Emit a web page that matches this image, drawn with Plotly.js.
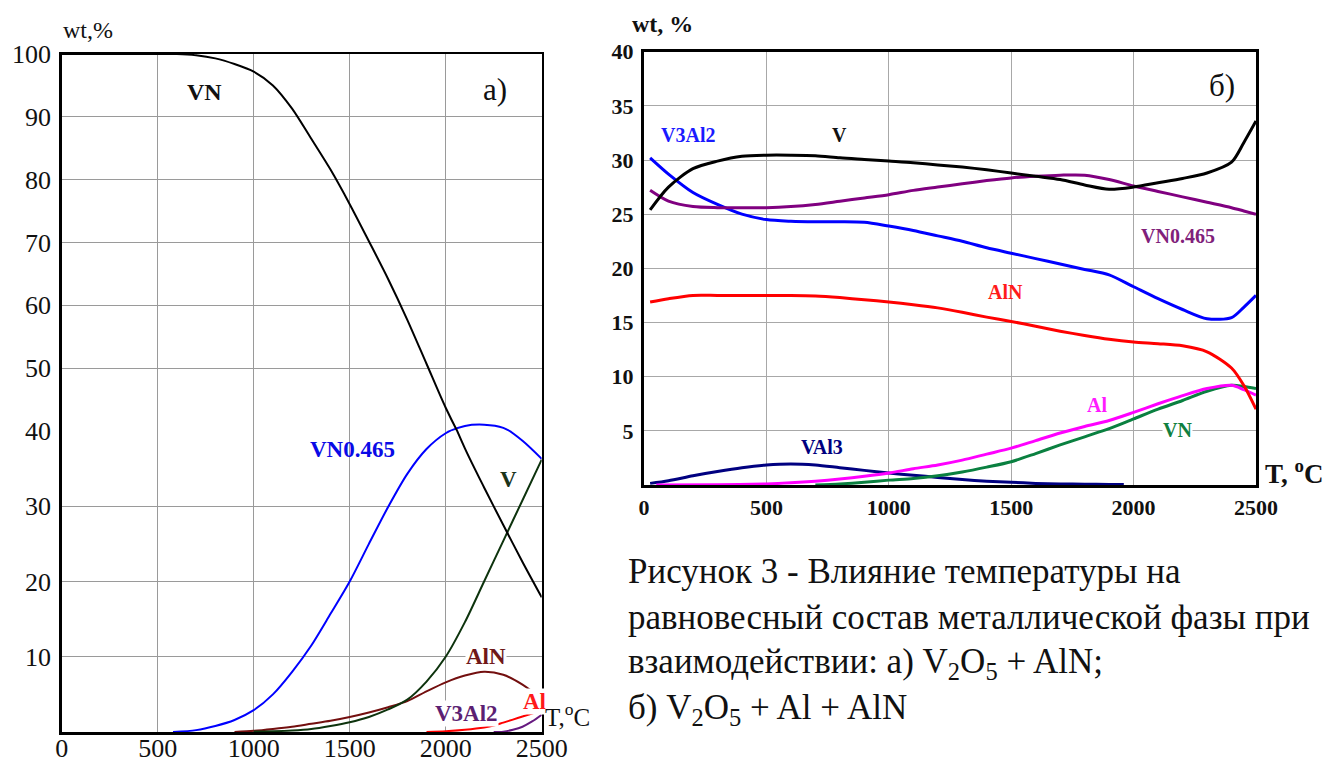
<!DOCTYPE html>
<html><head><meta charset="utf-8">
<script src="https://cdn.plot.ly/plotly-3.0.1.min.js"></script>
<style>html,body{margin:0;padding:0;background:#fff}#chart{width:1330px;height:762px}</style>
</head><body><div id="chart"></div>
<script>
// ---------- Chart a) V2O5 + AlN ----------
const xTicks = [0, 500, 1000, 1500, 2000, 2500];
const yTicksA_low = [10, 20, 30, 40];
const yTicksA_high = [50, 60, 70, 80, 90, 100];

const tA_VN = [0, 500, 600, 700, 800, 900, 1000, 1100, 1200, 1300, 1400, 1500, 1600, 1700, 1800, 1900, 2000, 2100, 2200, 2300, 2400, 2500];
const a_VN = [100, 100, 100, 99.8, 99.3, 98.4, 97.2, 95, 91.3, 86.5, 81.6, 76.1, 70.2, 64.2, 57.7, 50.7, 43.7, 37.7, 32.5, 27.5, 22.6, 17.9];

const tA_VN465 = [580, 700, 800, 900, 1000, 1100, 1200, 1300, 1400, 1500, 1600, 1700, 1800, 1900, 2000, 2100, 2200, 2300, 2400, 2500];
const a_VN465 = [0, 0.25, 0.8, 1.6, 2.9, 5, 8, 11.5, 15.7, 20, 25, 29.9, 34.3, 37.6, 39.7, 40.8, 41, 40.5, 38.7, 36.3];

const tA_V = [1000, 1100, 1200, 1300, 1400, 1500, 1600, 1700, 1800, 1900, 2000, 2100, 2200, 2300, 2400, 2500];
const a_V = [0.05, 0.1, 0.2, 0.4, 0.8, 1.3, 2.0, 3.0, 4.3, 6.7, 10, 14.6, 20, 25.4, 30.8, 36.2];

const tA_AlN = [900, 1000, 1100, 1200, 1300, 1400, 1500, 1600, 1700, 1800, 1900, 2000, 2100, 2200, 2300, 2400, 2500];
const a_AlN = [0, 0.15, 0.4, 0.7, 1.1, 1.5, 2.0, 2.6, 3.3, 4.1, 5.4, 6.6, 7.5, 8.0, 7.6, 6.3, 4.4];

const tA_Al = [1900, 2000, 2100, 2200, 2250, 2300, 2350, 2400, 2450, 2500];
const a_Al = [0, 0.1, 0.3, 0.6, 0.85, 1.25, 1.65, 2.05, 2.45, 2.85];

const tA_V3Al2 = [2250, 2300, 2350, 2400, 2450, 2500];
const a_V3Al2 = [0, 0.05, 0.3, 0.7, 1.4, 2.3];

// ---------- Chart б) V2O5 + Al + AlN ----------
const yTicksB = [5, 10, 15, 20, 25, 30, 35, 40];
const tB = [25, 100, 200, 300, 400, 500, 600, 700, 800, 900, 1000, 1100, 1200, 1300, 1400, 1500, 1600, 1700, 1800, 1900, 2000, 2100, 2200, 2300, 2400, 2450, 2500];
const b_V      = [25.4, 27.5, 29.2, 29.9, 30.35, 30.45, 30.45, 30.4, 30.2, 30.05, 29.9, 29.75, 29.55, 29.35, 29.1, 28.8, 28.5, 28.2, 27.7, 27.3, 27.5, 27.9, 28.3, 28.8, 29.8, 31.6, 33.6];
const b_VN465  = [27.2, 26.2, 25.7, 25.6, 25.6, 25.6, 25.7, 25.9, 26.2, 26.5, 26.8, 27.2, 27.5, 27.8, 28.1, 28.35, 28.5, 28.6, 28.6, 28.2, 27.6, 27.1, 26.6, 26.1, 25.6, 25.3, 25.0];
const b_V3Al2  = [30.2, 28.7, 27.0, 25.9, 25.0, 24.5, 24.35, 24.3, 24.3, 24.25, 23.9, 23.5, 23.0, 22.5, 21.9, 21.4, 20.9, 20.4, 19.9, 19.4, 18.3, 17.2, 16.2, 15.35, 15.45, 16.4, 17.5];
const b_AlN    = [16.9, 17.2, 17.5, 17.5, 17.5, 17.5, 17.5, 17.45, 17.3, 17.1, 16.9, 16.65, 16.35, 15.95, 15.5, 15.1, 14.65, 14.2, 13.8, 13.45, 13.2, 13.05, 12.85, 12.3, 10.8, 9.2, 7.0];

const tB_Al = [50, 300, 500, 600, 700, 800, 900, 1000, 1100, 1200, 1300, 1400, 1500, 1600, 1700, 1800, 1900, 2000, 2100, 2200, 2300, 2400, 2450, 2500];
const b_Al  = [0, 0.02, 0.1, 0.2, 0.35, 0.55, 0.8, 1.1, 1.5, 1.85, 2.3, 2.85, 3.4, 4.1, 4.8, 5.4, 5.95, 6.7, 7.5, 8.25, 8.9, 9.2, 8.8, 8.3];

const tB_VN = [700, 800, 900, 1000, 1100, 1200, 1300, 1400, 1500, 1600, 1700, 1800, 1900, 2000, 2100, 2200, 2300, 2400, 2450, 2500];
const b_VN  = [0, 0.1, 0.25, 0.45, 0.6, 0.85, 1.2, 1.65, 2.15, 2.9, 3.7, 4.45, 5.2, 6.1, 7.0, 7.8, 8.65, 9.2, 9.1, 8.9];

const tB_VAl3 = [25, 100, 200, 300, 400, 500, 600, 700, 800, 900, 1000, 1100, 1200, 1300, 1400, 1500, 1600, 1700, 1800, 1900, 1960];
const b_VAl3  = [0.15, 0.4, 0.85, 1.25, 1.6, 1.85, 1.95, 1.85, 1.6, 1.35, 1.1, 0.9, 0.7, 0.5, 0.35, 0.25, 0.15, 0.1, 0.07, 0.05, 0.04];

const caption = [
  'Рисунок 3 - Влияние температуры на',
  'равновесный состав металлической фазы при',
  'взаимодействии: а) V<sub>2</sub>O<sub>5</sub> + AlN;',
  'б) V<sub>2</sub>O<sub>5</sub> + Al + AlN'
];

// ---------- build ----------
const SERIF = '"Liberation Serif", "Times New Roman", Times, "DejaVu Serif", serif';
function ln(x, y, color, width, xa, ya) {
  return {type: 'scatter', mode: 'lines', x: x, y: y, xaxis: xa, yaxis: ya,
    line: {color: color, width: width, shape: 'spline', smoothing: 0.8}, hoverinfo: 'skip'};
}
const traces = [];
// chart a: lower (0-40) and upper (40-100) parts of the same axis
[['x', 'y'], ['x2', 'y2']].forEach(([xa, ya]) => {
  traces.push(ln(tA_AlN, a_AlN, '#730f0f', 2, xa, ya));
  traces.push(ln(tA_Al, a_Al, '#ff0000', 2, xa, ya));
  traces.push(ln(tA_V3Al2, a_V3Al2, '#661a80', 2, xa, ya));
  traces.push(ln(tA_V, a_V, '#0d330d', 2, xa, ya));
  traces.push(ln(tA_VN465, a_VN465, '#0000ff', 2, xa, ya));
  traces.push(ln(tA_VN, a_VN, '#000000', 2, xa, ya));
});
// chart b
traces.push(ln(tB_VAl3, b_VAl3, '#000080', 3, 'x3', 'y3'));
traces.push(ln(tB_VN, b_VN, '#0a8040', 3, 'x3', 'y3'));
traces.push(ln(tB_Al, b_Al, '#ff00ff', 3, 'x3', 'y3'));
traces.push(ln(tB, b_AlN, '#ff0000', 3, 'x3', 'y3'));
traces.push(ln(tB, b_V3Al2, '#0000ff', 3, 'x3', 'y3'));
traces.push(ln(tB, b_VN465, '#800080', 3, 'x3', 'y3'));
traces.push(ln(tB, b_V, '#000000', 3, 'x3', 'y3'));

const gridA = '#9a9a9a', gridB = '#a8a8a8';
const domXA = [61.7 / 1330, 541.7 / 1330];
const yBreak = 1 - 431 / 762;
const fontA = {family: SERIF, size: 26, color: '#111'};
const fontB = {family: SERIF, size: 22, color: '#111', weight: 'bold'};

const baseA = {showgrid: true, gridcolor: gridA, gridwidth: 1, zeroline: false, ticks: '',
  showline: true, linecolor: '#000', linewidth: 2.5, fixedrange: true};

const layout = {
  width: 1330, height: 762, margin: {l: 0, r: 0, t: 0, b: 0},
  paper_bgcolor: '#fff', plot_bgcolor: 'rgba(0,0,0,0)', showlegend: false,
  font: {family: SERIF, color: '#000'},
  xaxis: Object.assign({}, baseA, {domain: domXA, range: [0, 2500], anchor: 'y',
    tickmode: 'array', tickvals: xTicks, tickfont: fontA, ticklabelstandoff: -9}),
  yaxis: Object.assign({}, baseA, {domain: [1 - 732 / 762, yBreak], range: [0, 40], anchor: 'x',
    mirror: true, tickmode: 'array', tickvals: yTicksA_low, tickfont: fontA, ticklabelstandoff: 3}),
  xaxis2: Object.assign({}, baseA, {domain: domXA, range: [0, 2500], anchor: 'y2', side: 'top',
    tickmode: 'array', tickvals: xTicks, showticklabels: false}),
  yaxis2: Object.assign({}, baseA, {domain: [yBreak, 1 - 54 / 762], range: [40, 100], anchor: 'x2',
    mirror: true, tickmode: 'array', tickvals: yTicksA_high, tickfont: fontA, ticklabelstandoff: 3}),
  xaxis3: {domain: [644 / 1330, 1256 / 1330], range: [0, 2500], anchor: 'y3',
    showgrid: true, gridcolor: gridB, gridwidth: 1, zeroline: false, ticks: '',
    showline: true, mirror: true, linecolor: '#000', linewidth: 3,
    tickmode: 'array', tickvals: xTicks, tickfont: fontB, ticklabelstandoff: 1, fixedrange: true},
  yaxis3: {domain: [1 - 485 / 762, 1 - 51.7 / 762], range: [0, 40], anchor: 'x3',
    showgrid: true, gridcolor: gridB, gridwidth: 1, zeroline: false, ticks: '',
    showline: true, mirror: true, linecolor: '#000', linewidth: 3,
    tickmode: 'array', tickvals: yTicksB, tickfont: fontB, ticklabelstandoff: 3, fixedrange: true},
  annotations: []
};

function lab(text, x, y, xref, yref, size, color, bold, bg, extra) {
  return Object.assign({text: text, x: x, y: y, xref: xref, yref: yref, showarrow: false,
    xanchor: 'center', yanchor: 'middle',
    font: {family: SERIF, size: size, color: color, weight: bold ? 'bold' : 'normal'},
    bgcolor: bg || 'rgba(0,0,0,0)', borderpad: 0}, extra || {});
}
const A = layout.annotations;
// chart a labels
A.push(lab('wt,%', 88 / 1330, 1 - 30 / 762, 'paper', 'paper', 24, '#111', false));
A.push(lab('VN', 746, 94, 'x2', 'y2', 24, '#111', true));
A.push(lab('a)', 2257, 94.3, 'x2', 'y2', 31, '#111', false));
A.push(lab('VN0.465', 1512, 37.6, 'x', 'y', 23, '#0a0ae6', true));
A.push(lab('V', 2325, 33.6, 'x', 'y', 23, '#1a331a', true));
A.push(lab('AlN', 2210, 10.0, 'x', 'y', 23, '#701818', true, '#fff'));
A.push(lab('Al', 2460, 4.1, 'x', 'y', 23, '#ff1a1a', true, '#fff'));
A.push(lab('V3Al2', 2106, 2.5, 'x', 'y', 23, '#5c1f73', true, '#fff'));
A.push(lab('T,<sup>o</sup>C', 567 / 1330, 1 - 715 / 762, 'paper', 'paper', 25, '#111', false));
// chart b labels
A.push(lab('wt, %', 662 / 1330, 1 - 24 / 762, 'paper', 'paper', 24, '#111', true));
A.push(lab('б)', 2361, 36.9, 'x3', 'y3', 31, '#111', false));
A.push(lab('V3Al2', 180, 32.3, 'x3', 'y3', 20, '#1a1aff', true));
A.push(lab('V', 800, 32.3, 'x3', 'y3', 20, '#111', true));
A.push(lab('VN0.465', 2181, 23.0, 'x3', 'y3', 20, '#80207a', true));
A.push(lab('AlN', 1475, 17.8, 'x3', 'y3', 20, '#ff1a1a', true));
A.push(lab('Al', 1850, 7.4, 'x3', 'y3', 20, '#ff1aff', true));
A.push(lab('VN', 2181, 5.1, 'x3', 'y3', 20, '#108040', true, '#fff'));
A.push(lab('VAl3', 727, 3.5, 'x3', 'y3', 20, '#000080', true));
A.push(lab('T, <sup>o</sup>C', 1294 / 1330, 1 - 472 / 762, 'paper', 'paper', 27, '#111', true));
// caption
const capY = [571, 617, 663, 709];
caption.forEach((t, i) => {
  A.push(lab(t, 627 / 1330, 1 - capY[i] / 762, 'paper', 'paper', 35, '#111', false, null,
    {xanchor: 'left', yanchor: 'middle', align: 'left'}));
});

Plotly.newPlot('chart', traces, layout, {staticPlot: true, displayModeBar: false});
</script>
</body></html>
